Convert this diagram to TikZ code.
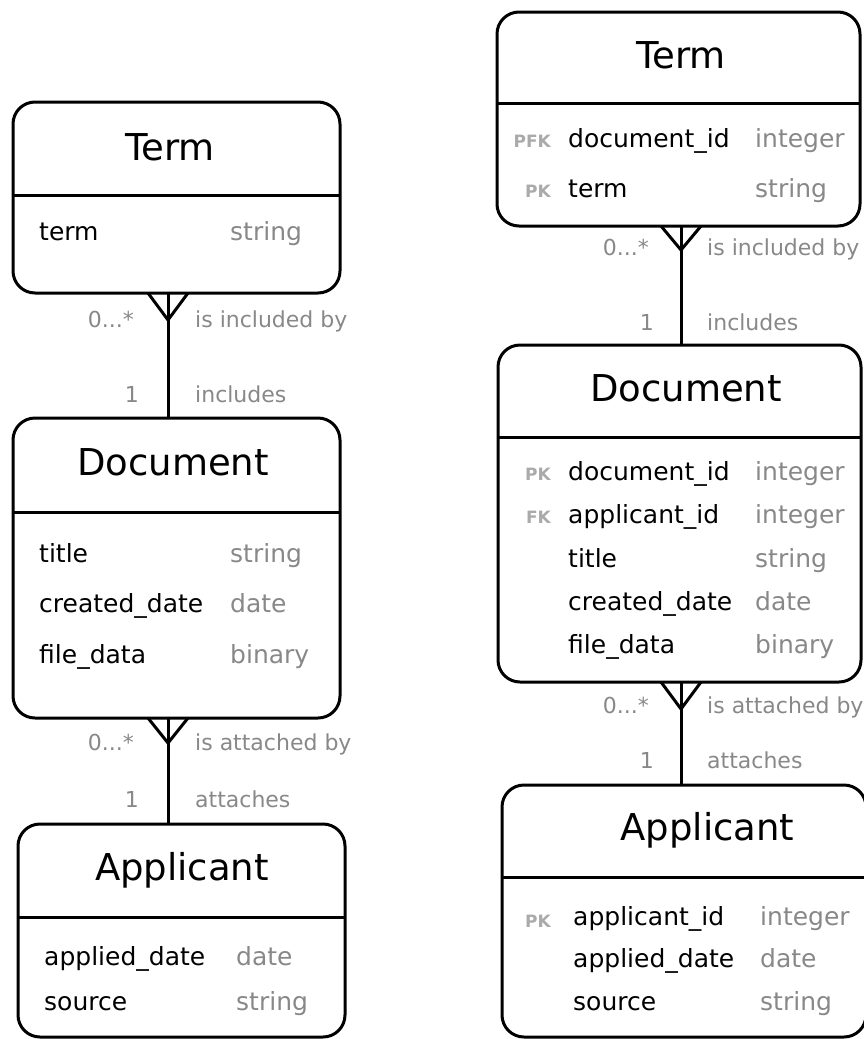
\documentclass[tikz,border=0pt]{standalone}
\usepackage{fontspec}
\setmainfont{DejaVu Sans}
\usetikzlibrary{calc}
\definecolor{typegray}{HTML}{888888}
\definecolor{keygray}{HTML}{AAAAAA}
\tikzset{
  entity/.style={draw, line width=3pt, rounded corners=22pt, inner sep=0pt, outer sep=0pt},
  divider/.style={line width=3pt},
  title/.style={anchor=base, inner sep=0pt, font=\fontsize{37}{44}\selectfont},
  attr/.style={anchor=base west, inner sep=0pt, font=\fontsize{25}{30}\selectfont},
  dtype/.style={attr, text=typegray},
  keytag/.style={anchor=base east, inner sep=0pt, text=keygray, font=\fontsize{17}{20}\selectfont\bfseries},
  card/.style={anchor=base east, inner sep=0pt, text=typegray, font=\fontsize{22}{26}\selectfont},
  role/.style={anchor=base west, inner sep=0pt, text=typegray, font=\fontsize{22}{26}\selectfont},
  link/.style={line width=3pt},
}
\begin{document}
\begin{tikzpicture}[x=1pt,y=-1pt]
\useasboundingbox (0,0) rectangle (864,1039);

% ---------- conceptual model (left) ----------
\node[entity, minimum width=327pt, minimum height=191pt] (termA) at (176.5,197.5) {};
\draw[divider] ($(termA.north west)+(0,93)$) -- ($(termA.north east)+(0,93)$);
\node[title] (termAt) at (170,160) {Term};
\node[attr]  (termA1) at (39,240) {term};
\node[dtype] (termA1t) at (230,240) {string};

\node[entity, minimum width=327pt, minimum height=300pt] (docA) at (176.5,568) {};
\draw[divider] ($(docA.north west)+(0,94)$) -- ($(docA.north east)+(0,94)$);
\node[title] (docAt) at (173,475) {Document};
\node[attr]  (docA1) at (39,562) {title};
\node[dtype] (docA1t) at (230,562) {string};
\node[attr]  (docA2) at (39,612) {created\_date};
\node[dtype] (docA2t) at (230,612) {date};
\node[attr]  (docA3) at (39,663) {file\_data};
\node[dtype] (docA3t) at (230,663) {binary};

\node[entity, minimum width=327pt, minimum height=213pt] (appA) at (181.5,930.5) {};
\draw[divider] ($(appA.north west)+(0,93)$) -- ($(appA.north east)+(0,93)$);
\node[title] (appAt) at (182,880) {Applicant};
\node[attr]  (appA1) at (44,965) {applied\_date};
\node[dtype] (appA1t) at (236,965) {date};
\node[attr]  (appA2) at (44,1010) {source};
\node[dtype] (appA2t) at (236,1010) {string};

\coordinate (axisA) at (168,0);
% Term -- Document
\draw[link] (termA.south -| axisA) -- (docA.north -| axisA);
\draw[link] ($(termA.south -| axisA)+(-20,0)$) -- ($(termA.south -| axisA)+(0,27)$) -- ($(termA.south -| axisA)+(20,0)$);
\node[card] (ctA1) at (134,327) {0...*};
\node[role] (rtA1) at (195,327) {is included by};
\node[card] (ctA2) at (139,402) {1};
\node[role] (rtA2) at (195,402) {includes};
% Document -- Applicant
\draw[link] (docA.south -| axisA) -- (appA.north -| axisA);
\draw[link] ($(docA.south -| axisA)+(-20,0)$) -- ($(docA.south -| axisA)+(0,25)$) -- ($(docA.south -| axisA)+(20,0)$);
\node[card] (caA1) at (134,750) {0...*};
\node[role] (raA1) at (195,750) {is attached by};
\node[card] (caA2) at (139,807) {1};
\node[role] (raA2) at (195,807) {attaches};

% ---------- logical model (right) ----------
\node[entity, minimum width=363pt, minimum height=214pt] (termB) at (678.5,119) {};
\draw[divider] ($(termB.north west)+(0,91)$) -- ($(termB.north east)+(0,91)$);
\node[title] (termBt) at (681,68) {Term};
\node[keytag] (termBk1) at (551,147) {PFK};
\node[attr]  (termB1) at (568,147) {document\_id};
\node[dtype] (termB1t) at (755,147) {integer};
\node[keytag] (termBk2) at (551,197) {PK};
\node[attr]  (termB2) at (568,197) {term};
\node[dtype] (termB2t) at (755,197) {string};

\node[entity, minimum width=363pt, minimum height=337pt] (docB) at (679.5,513.5) {};
\draw[divider] ($(docB.north west)+(0,92)$) -- ($(docB.north east)+(0,92)$);
\node[title] (docBt) at (686,401) {Document};
\node[keytag] (docBk1) at (551,480) {PK};
\node[attr]  (docB1) at (568,480) {document\_id};
\node[dtype] (docB1t) at (755,480) {integer};
\node[keytag] (docBk2) at (551,523) {FK};
\node[attr]  (docB2) at (568,523) {applicant\_id};
\node[dtype] (docB2t) at (755,523) {integer};
\node[attr]  (docB3) at (568,567) {title};
\node[dtype] (docB3t) at (755,567) {string};
\node[attr]  (docB4) at (568,610) {created\_date};
\node[dtype] (docB4t) at (755,610) {date};
\node[attr]  (docB5) at (568,653) {file\_data};
\node[dtype] (docB5t) at (755,653) {binary};

\node[entity, minimum width=364pt, minimum height=252pt] (appB) at (684,911) {};
\draw[divider] ($(appB.north west)+(0,92)$) -- ($(appB.north east)+(0,92)$);
\node[title] (appBt) at (707.5,840) {Applicant};
\node[keytag] (appBk1) at (551,927) {PK};
\node[attr]  (appB1) at (573,925) {applicant\_id};
\node[dtype] (appB1t) at (760,925) {integer};
\node[attr]  (appB2) at (573,967) {applied\_date};
\node[dtype] (appB2t) at (760,967) {date};
\node[attr]  (appB3) at (573,1010) {source};
\node[dtype] (appB3t) at (760,1010) {string};

\coordinate (axisB) at (681,0);
% Term -- Document
\draw[link] (termB.south -| axisB) -- (docB.north -| axisB);
\draw[link] ($(termB.south -| axisB)+(-20,0)$) -- ($(termB.south -| axisB)+(0,24)$) -- ($(termB.south -| axisB)+(20,0)$);
\node[card] (ctB1) at (649,255) {0...*};
\node[role] (rtB1) at (707,255) {is included by};
\node[card] (ctB2) at (654,330) {1};
\node[role] (rtB2) at (707,330) {includes};
% Document -- Applicant
\draw[link] (docB.south -| axisB) -- (appB.north -| axisB);
\draw[link] ($(docB.south -| axisB)+(-20,0)$) -- ($(docB.south -| axisB)+(0,27)$) -- ($(docB.south -| axisB)+(20,0)$);
\node[card] (caB1) at (649,713) {0...*};
\node[role] (raB1) at (707,713) {is attached by};
\node[card] (caB2) at (654,768) {1};
\node[role] (raB2) at (707,768) {attaches};
\end{tikzpicture}
\end{document}
